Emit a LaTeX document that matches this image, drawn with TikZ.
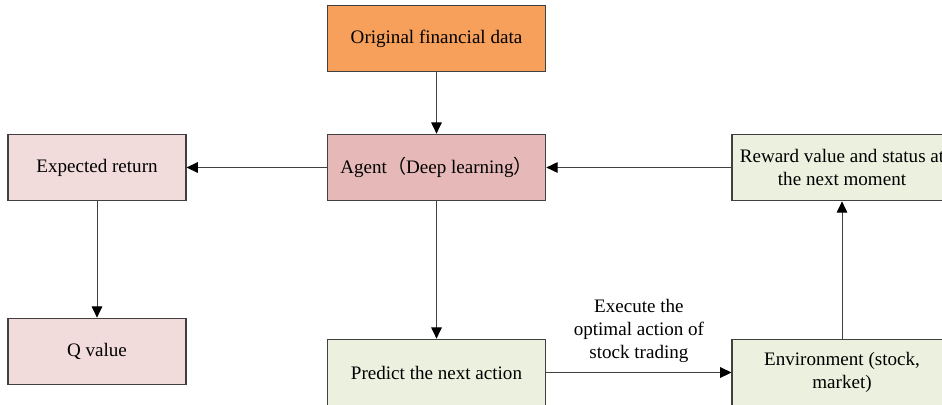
\documentclass[tikz,border=0pt]{standalone}
\usepackage{fontspec}
\setmainfont{Liberation Serif}
\newfontfamily\cjk{Noto Sans CJK SC}
\usetikzlibrary{arrows.meta,positioning}
\definecolor{cOrange}{HTML}{F6A05B}
\definecolor{cRose}{HTML}{E6B9B8}
\definecolor{cPink}{HTML}{F2DCDB}
\definecolor{cSage}{HTML}{EBF1DE}
\definecolor{cEdge}{HTML}{404040}

\begin{document}
\begin{tikzpicture}[x=0.75pt,y=-0.75pt,>={Triangle[length=8.5pt,width=8pt,color=black]},
   font=\fontsize{14.3}{17.3}\selectfont,
   blk/.style={draw=cEdge,line width=0.8pt,minimum width=164pt,minimum height=50pt,
               inner sep=2pt,align=center},
   flow/.style={->,draw=cEdge,line width=0.7pt}]
  \clip (0,0) rectangle (942,404);
  % middle column
  \node[blk,fill=cOrange] (data)  at (436.5,38.5)  {Original financial data};
  \node[blk,fill=cRose]   (agent) at (436.5,167.5) {Agent{\cjk（}Deep learning{\cjk）}};
  \node[blk,fill=cSage]   (pred)  at (436.5,372.5) {Predict the next action};
  % left column
  \node[blk,fill=cPink,minimum width=133.5pt] (ret) at (97,167.5) {Expected return};
  \node[blk,fill=cPink,minimum width=133.5pt] (qv)  at (97,351.5) {Q value};
  % right column
  \node[blk,fill=cSage,minimum width=165pt] (rew) at (842,167.5)
     {Reward value and status at\\the next moment};
  \node[blk,fill=cSage,minimum width=165pt] (env) at (842,372.5)
     {Environment (stock,\\market)};
  % connectors
  \draw[flow] (data) -- (agent);
  \draw[flow] (agent) -- (ret);
  \draw[flow] (ret) -- (qv);
  \draw[flow] (agent) -- (pred);
  \draw[flow] (rew) -- (agent);
  \draw[flow] (env) -- (rew);
  \draw[flow] (pred) -- node[above=4pt,align=center]
     {Execute the\\optimal action of\\stock trading} (env);
\end{tikzpicture}
\end{document}
